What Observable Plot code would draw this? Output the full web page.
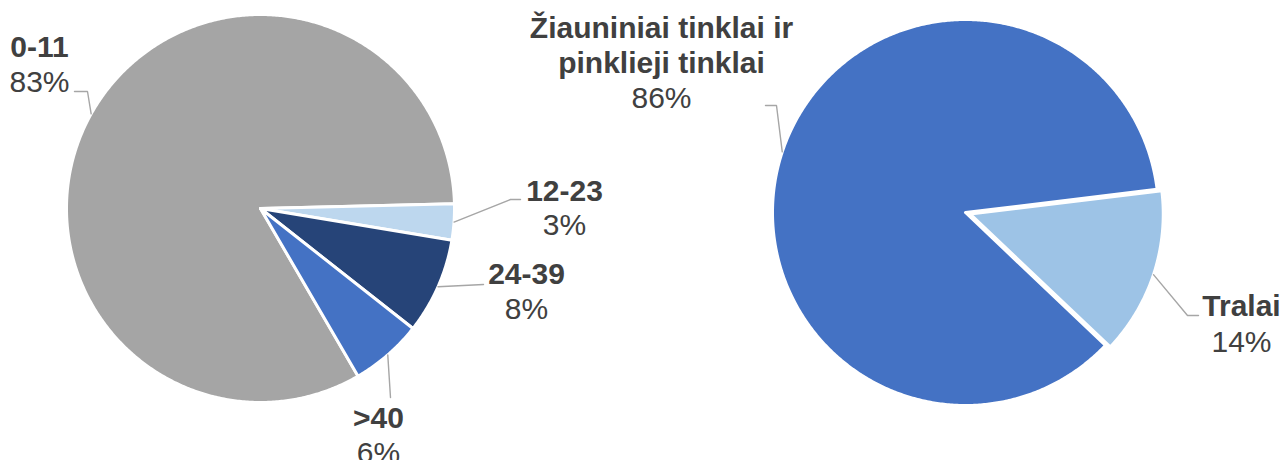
<!DOCTYPE html>
<html><head><meta charset="utf-8">
<script src="https://cdn.jsdelivr.net/npm/d3@7"></script>
<script src="https://cdn.jsdelivr.net/npm/@observablehq/plot@0.6"></script>
<style>body{margin:0;background:#fff;}</style>
</head><body><div id="chart"></div>
<script>
// ---- data ----
const ageGroups = ["0-11", "12-23", "24-39", ">40"];
const ageShares = [83, 3, 8, 6];
const ageColors = ["#A5A5A5", "#BDD7EE", "#264478", "#4472C4"];

const gearTypes = ["Žiauniniai tinklai ir pinklieji tinklai", "Tralai"];
const gearLabels = ["Žiauniniai tinklai ir\npinklieji tinklai", "Tralai"];
const gearShares = [86, 14];
const gearColors = ["#4472C4", "#9DC3E6"];

// ---- layout ----
const W = 1282, H = 460;
const FS = 30, LH = 35;
const pies = [
  {keys: ageGroups, labels: ageGroups, values: ageShares, cx: 260, cy: 208, r: 194, start: 149.8,
   explode: [0, 0, 0, 0],
   // [x, baseline of name, baseline of percent]
   labelPos: [[39, 56, 91], [564, 200, 234], [526, 283, 318], [378, 427, 462]],
   leader: [[[87, 91], [74, 91]], [[510, 199], [520, 199]], [[483, 284]], [[390, 397]]]},
  {keys: gearTypes, labels: gearLabels, values: gearShares, cx: 965, cy: 212, r: 193, start: 133.5,
   explode: [0, 5],
   labelPos: [[661, 72, 107], [1241, 315, 351]],
   leader: [[[776, 105], [765, 105]], [[1187, 315], [1198, 315]]]}
];

const rad = d => d * Math.PI / 180;
const slicePts = [], leaderPts = [], nameRows = [], pctRows = [];
for (const p of pies) {
  const s = rad(p.start);
  const arcs = d3.pie().sort(null).startAngle(s).endAngle(s + 2 * Math.PI)(p.values);
  arcs.forEach((a, i) => {
    const key = p.keys[i];
    const mid = (a.startAngle + a.endAngle) / 2;
    const ox = p.cx + p.explode[i] * Math.sin(mid), oy = p.cy - p.explode[i] * Math.cos(mid);
    const n = Math.max(2, Math.ceil((a.endAngle - a.startAngle) / rad(0.5)));
    slicePts.push({key, x: ox, y: oy});
    for (let k = 0; k <= n; k++) {
      const t = a.startAngle + (a.endAngle - a.startAngle) * k / n;
      slicePts.push({key, x: ox + p.r * Math.sin(t), y: oy - p.r * Math.cos(t)});
    }
    slicePts.push({key, x: ox, y: oy});
    // leader line from slice edge to label
    leaderPts.push({key, x: ox + p.r * Math.sin(mid), y: oy - p.r * Math.cos(mid)});
    for (const [lx, ly] of p.leader[i]) leaderPts.push({key, x: lx, y: ly});
    const [tx, ny, py] = p.labelPos[i];
    nameRows.push({x: tx, y: ny, text: p.labels[i]});
    pctRows.push({x: tx, y: py, text: p.values[i] + "%"});
  });
}

const chart = Plot.plot({
  width: W, height: H, margin: 0,
  x: {domain: [0, W], range: [0, W], axis: null},
  y: {domain: [0, H], range: [0, H], axis: null},
  color: {domain: [...ageGroups, ...gearTypes], range: [...ageColors, ...gearColors]},
  style: {fontFamily: "'Liberation Sans', Arial, sans-serif", background: "#fff", overflow: "visible"},
  marks: [
    Plot.line(slicePts, {x: "x", y: "y", z: "key", fill: "key", stroke: "#fff", strokeWidth: 3, strokeLinejoin: "round"}),
    Plot.line(leaderPts, {x: "x", y: "y", z: "key", stroke: "#A6A6A6", strokeWidth: 1.4, strokeLinejoin: "miter"}),
    Plot.text(nameRows, {x: "x", y: "y", text: "text", fontSize: FS, fontWeight: "bold", fill: "#404040",
      textAnchor: "middle", lineAnchor: "bottom", lineHeight: LH / FS}),
    Plot.text(pctRows, {x: "x", y: "y", text: "text", fontSize: FS, fill: "#404040",
      textAnchor: "middle", lineAnchor: "bottom", lineHeight: LH / FS})
  ]
});
document.getElementById("chart").appendChild(chart);
</script>
</body></html>
